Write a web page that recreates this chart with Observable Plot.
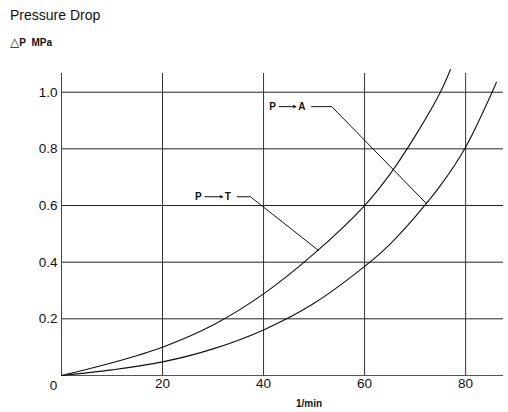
<!DOCTYPE html>
<html>
<head>
<meta charset="utf-8">
<script src="https://cdn.jsdelivr.net/npm/d3@7"></script>
<script src="https://cdn.jsdelivr.net/npm/@observablehq/plot@0.6"></script>
<style>
  body { margin: 0; background: #fff; font-family: "Liberation Sans", Arial, sans-serif; }
  #wrap { position: relative; width: 508px; height: 412px; }
  #title { position: absolute; left: 10px; top: 7px; font-size: 14px; color: #111; }
  #unit { position: absolute; left: 10px; top: 35px; font-size: 10px; font-weight: bold; color: #111; }
  #unit .tri { font-size: 12px; font-weight: normal; font-family: "DejaVu Sans", sans-serif; }
  #xlab { position: absolute; left: 309px; top: 398px; transform: translateX(-50%); font-size: 10px; font-weight: bold; color: #111; }
  #plot { position: absolute; left: 0; top: 0; }
</style>
</head>
<body>
<div id="wrap">
  <div id="plot"></div>
  <div id="title">Pressure Drop</div>
  <div id="unit"><span class="tri">△</span>P&nbsp; MPa</div>
  <div id="xlab">1/min</div>
</div>
<script>
// Flow rate (1/min) and pressure drop (MPa)
const flowPT = [0, 10, 20, 30, 40, 50, 60, 65, 70, 75, 77];
const dropPT = [0, 0.045, 0.10, 0.178, 0.288, 0.43, 0.60, 0.71, 0.845, 1.0, 1.08];
const flowPA = [0, 10, 20, 30, 40, 50, 60, 65, 70, 75, 80, 85, 86.1];
const dropPA = [0, 0.02, 0.048, 0.094, 0.161, 0.255, 0.385, 0.463, 0.56, 0.67, 0.806, 0.99, 1.035];
const xTicks = [20, 40, 60, 80];
const yTicks = [0.2, 0.4, 0.6, 0.8, 1.0];
// label anchors (data space)
const labelPT = {p: [27.1, 0.631], a1: 28.4, a2: 31.9, t: [32.9, 0.631], leader: [[34.8, 0.631], [37.4, 0.631], [50.9, 0.441]], text: "T"};
const labelPA = {p: [41.8, 0.949], a1: 43.1, a2: 46.4, t: [47.6, 0.949], leader: [[49.5, 0.949], [53.5, 0.949], [72.3, 0.606]], text: "A"};

const ptData = flowPT.map((x, i) => ({x, y: dropPT[i]}));
const paData = flowPA.map((x, i) => ({x, y: dropPA[i]}));
const labels = [labelPT, labelPA];

const chart = Plot.plot({
  width: 508,
  height: 412,
  marginLeft: 61,
  marginRight: 5,
  marginTop: 73,
  marginBottom: 37,
  style: {fontFamily: "Liberation Sans, Arial, sans-serif", background: "transparent"},
  x: {domain: [0, 87.5]},
  y: {domain: [0, 1.066]},
  marks: [
    Plot.ruleY(yTicks, {stroke: "#222", strokeWidth: 1}),
    Plot.ruleX(xTicks, {stroke: "#333", strokeWidth: 1}),
    Plot.ruleX([0], {stroke: "#444", strokeWidth: 1}),
    Plot.ruleY([0], {stroke: "#555", strokeWidth: 1}),
    Plot.axisX({ticks: xTicks, tickSize: 0, tickPadding: 3, fontSize: 13.5, label: null, fill: "#111"}),
    Plot.axisY({ticks: yTicks, tickSize: 0, tickPadding: 4, fontSize: 13.5, label: null, tickFormat: d3.format(".1f"), fill: "#111"}),
    Plot.text([0], {x: 0, y: 0, text: d => "0", dx: -8, dy: 10, fontSize: 13.5, fill: "#111"}),
    Plot.line(ptData, {x: "x", y: "y", curve: "catmull-rom", stroke: "#111", strokeWidth: 1.1}),
    Plot.line(paData, {x: "x", y: "y", curve: "catmull-rom", stroke: "#111", strokeWidth: 1.1}),
    Plot.line(labelPT.leader, {x: d => d[0], y: d => d[1], stroke: "#111", strokeWidth: 1}),
    Plot.line(labelPA.leader, {x: d => d[0], y: d => d[1], stroke: "#111", strokeWidth: 1}),
    Plot.text(labels, {x: d => d.p[0], y: d => d.p[1], text: d => "P", fontSize: 10, fontWeight: "bold", fill: "#111"}),
    Plot.text(labels, {x: d => d.t[0], y: d => d.t[1], text: d => d.text, fontSize: 10, fontWeight: "bold", fill: "#111"}),
    Plot.arrow(labels, {x1: d => d.a1, x2: d => d.a2, y1: d => d.p[1], y2: d => d.p[1], stroke: "#111", strokeWidth: 1, headLength: 4, headAngle: 50})
  ]
});
document.getElementById("plot").appendChild(chart);
</script>
</body>
</html>
